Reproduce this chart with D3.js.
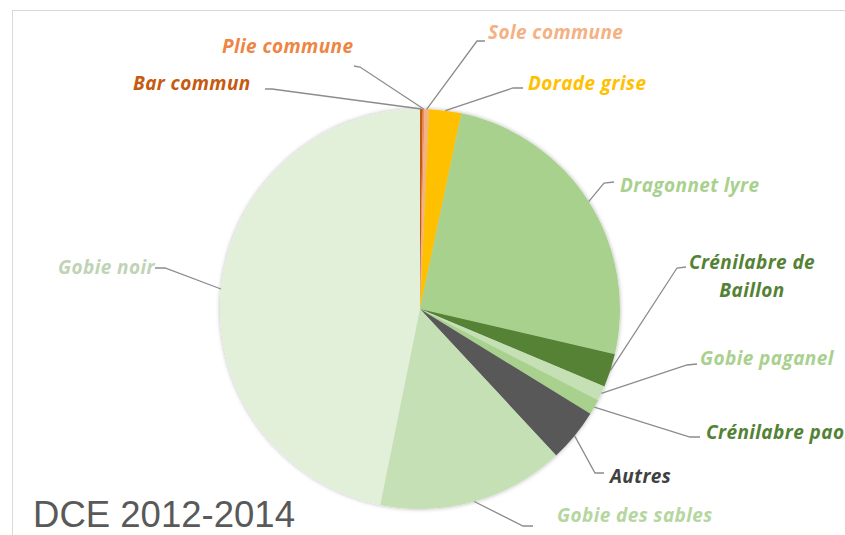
<!DOCTYPE html>
<html>
<head>
<meta charset="utf-8">
<script src="https://cdn.jsdelivr.net/npm/d3@7"></script>
<style>
  html, body { margin: 0; padding: 0; background: #fff; }
  svg { display: block; }
  .lbl { font-family: "Open Sans", "Liberation Sans", sans-serif; font-style: italic; font-weight: 700; font-size: 19px; letter-spacing: 0.4px; }
</style>
</head>
<body>
<svg id="chart" width="845" height="535"></svg>
<script>
// Species shares (%), clockwise from 12 o'clock
const species = [
  "Bar commun", "Plie commune", "Sole commune", "Dorade grise", "Dragonnet lyre",
  "Crénilabre de Baillon", "Gobie paganel", "Crénilabre paon", "Autres",
  "Gobie des sables", "Gobie noir"
];
const shares = [0.22, 0.14, 0.36, 2.6, 25.3, 2.7, 1.2, 1.25, 4.3, 15.1, 46.8];

// Slice fills and label colours
const sliceColors = [
  "#c55a11", "#f08c5a", "#f4b183", "#ffc000", "#a9d18e",
  "#548235", "#c5e0b4", "#a9d18e", "#595959", "#c5e0b4", "#e2f0d9"
];
const labelColors = [
  "#c55a11", "#ee8544", "#f4b183", "#ffc000", "#a9d18e",
  "#548235", "#a9d18e", "#548235", "#404040", "#b5d69f", "#bfd3b5"
];

// Label placement: text lines, anchor, text position, leader elbow and stub end
const labelLayout = [
  { lines: ["Bar commun"],            anchor: "start",  x: 133, y: 90,  elbow: [272, 89],  stub: [265, 89] },
  { lines: ["Plie commune"],          anchor: "start",  x: 222, y: 53,  elbow: [360, 67],  stub: [354, 66] },
  { lines: ["Sole commune"],          anchor: "start",  x: 488, y: 39,  elbow: [477, 41],  stub: [485, 41] },
  { lines: ["Dorade grise"],          anchor: "start",  x: 528, y: 90,  elbow: [513, 88],  stub: [523, 88] },
  { lines: ["Dragonnet lyre"],        anchor: "start",  x: 620, y: 192, elbow: [604, 183], stub: [614, 182] },
  { lines: ["Crénilabre de", "Baillon"], anchor: "middle", x: 752, y: 269, elbow: [677, 268], stub: [686, 267] },
  { lines: ["Gobie paganel"],         anchor: "start",  x: 700, y: 365, elbow: [687, 365], stub: [697, 364] },
  { lines: ["Crénilabre paon"],       anchor: "start",  x: 706, y: 439, elbow: [690, 437], stub: [700, 437] },
  { lines: ["Autres"],                anchor: "start",  x: 610, y: 483, elbow: [595, 473], stub: [604, 473] },
  { lines: ["Gobie des sables"],      anchor: "start",  x: 557, y: 522, elbow: [523, 526], stub: [533, 526] },
  { lines: ["Gobie noir"],            anchor: "start",  x: 58,  y: 274, elbow: [165, 268], stub: [155, 268] }
];

const svg = d3.select("#chart");
const cx = 420, cy = 309, radius = 200;

// chart frame
svg.append("rect")
  .attr("x", 12.5).attr("y", 10.5)
  .attr("width", 900).attr("height", 600)
  .attr("fill", "#fff").attr("stroke", "#d9d9d9").attr("stroke-width", 1);

const defs = svg.append("defs");
const shadow = defs.append("filter").attr("id", "pieShadow")
  .attr("x", "-10%").attr("y", "-10%").attr("width", "120%").attr("height", "120%");
shadow.append("feDropShadow")
  .attr("dx", 0).attr("dy", 0).attr("stdDeviation", 2)
  .attr("flood-color", "#000").attr("flood-opacity", 0.3);

const pie = d3.pie().sort(null).value(d => d)(shares);
const arc = d3.arc().innerRadius(0).outerRadius(radius);

const g = svg.append("g").attr("transform", `translate(${cx},${cy})`);
g.append("g").attr("filter", "url(#pieShadow)")
  .selectAll("path")
  .data(pie)
  .join("path")
  .attr("d", arc)
  .attr("fill", (d, i) => sliceColors[i]);

// leader lines from each slice's outer edge to its label
const edgePoint = d => {
  const a = (d.startAngle + d.endAngle) / 2;
  return [cx + radius * Math.sin(a), cy - radius * Math.cos(a)];
};

svg.append("g").selectAll("polyline")
  .data(pie)
  .join("polyline")
  .attr("points", (d, i) => {
    const p = edgePoint(d);
    const L = labelLayout[i];
    return [p, L.elbow, L.stub].map(q => q.join(",")).join(" ");
  })
  .attr("fill", "none")
  .attr("stroke", "#8c8c8c")
  .attr("stroke-width", 1.3);

const labels = svg.append("g").selectAll("text")
  .data(labelLayout)
  .join("text")
  .attr("class", "lbl")
  .attr("text-anchor", d => d.anchor)
  .attr("fill", (d, i) => labelColors[i]);

labels.each(function(d) {
  const t = d3.select(this);
  d.lines.forEach((line, k) => {
    t.append("tspan")
      .attr("x", d.x)
      .attr("y", d.y + k * 28)
      .text(line);
  });
});

// period caption
svg.append("text")
  .attr("x", 33).attr("y", 527)
  .attr("font-family", "'Liberation Sans', Arial, sans-serif")
  .attr("font-size", 37)
  .attr("fill", "#595959")
  .attr("textLength", 262)
  .attr("lengthAdjust", "spacingAndGlyphs")
  .text("DCE 2012-2014");
</script>
</body>
</html>
